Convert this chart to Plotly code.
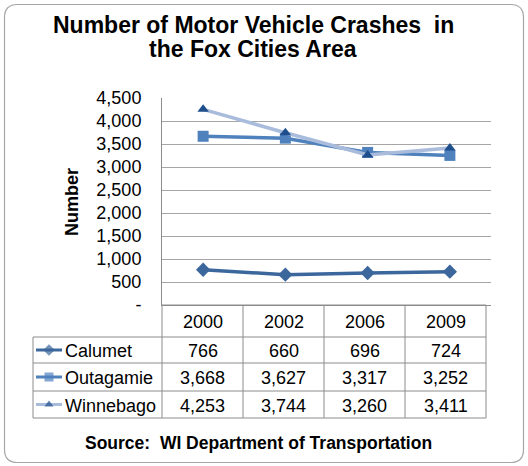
import plotly.graph_objects as go

years = ["2000", "2002", "2006", "2009"]
series_names = ["Calumet", "Outagamie", "Winnebago"]
calumet = [766, 660, 696, 724]
outagamie = [3668, 3627, 3317, 3252]
winnebago = [4253, 3744, 3260, 3411]
y_ticks = [0, 500, 1000, 1500, 2000, 2500, 3000, 3500, 4000, 4500]
y_ticklabels = ["-", "500", "1,000", "1,500", "2,000", "2,500", "3,000", "3,500", "4,000", "4,500"]
title_lines = ["Number of Motor Vehicle Crashes&nbsp; in", "the Fox Cities Area"]
y_title = "Number"
source_text = "Source:&nbsp; WI Department of Transportation"

W, H = 528, 466
FONT = "Liberation Sans, Arial, sans-serif"

line_colors = ["#3B679C", "#4F81BD", "#A9BCDB"]
marker_colors = ["#3B679C", "#4F81BD", "#1F4E8C"]
symbols = ["diamond", "square", "triangle-up"]
msizes = [11, 11, 10]
values = [calumet, outagamie, winnebago]

# plot area in pixels
PX0, PX1, PY0, PY1 = 162, 491, 98, 305

fig = go.Figure()
for name, vals, lc, mc, sym, ms in zip(series_names, values, line_colors, marker_colors, symbols, msizes):
    fig.add_trace(go.Scatter(
        x=years, y=vals, mode="lines+markers", name=name,
        line=dict(color=lc, width=3.5),
        marker=dict(symbol=sym, size=ms, color=mc, line=dict(width=0)),
        xaxis="x", yaxis="y", showlegend=False, hoverinfo="skip"))

# table geometry (pixel coords on overlay axis)
TX0, TX1 = 33, 486
col_x = [162 + i * (TX1 - 162) / 4 for i in range(5)]
row_y = [305, 337, 363, 391, 418]
grid_col = "#8C8C8C"

shapes = []
shapes.append(dict(type="line", x0=col_x[0], x1=TX1, y0=row_y[0], y1=row_y[0], xref="x2", yref="y2",
                   line=dict(color=grid_col, width=1)))
for i in range(1, 5):
    shapes.append(dict(type="line", x0=TX0, x1=TX1, y0=row_y[i], y1=row_y[i], xref="x2", yref="y2",
                       line=dict(color=grid_col, width=1)))
for cx in col_x:
    shapes.append(dict(type="line", x0=cx, x1=cx, y0=row_y[0], y1=row_y[4], xref="x2", yref="y2",
                       line=dict(color=grid_col, width=1)))
shapes.append(dict(type="line", x0=TX0, x1=TX0, y0=row_y[1], y1=row_y[4], xref="x2", yref="y2",
                   line=dict(color=grid_col, width=1)))

# rounded outer border
bx0, by0, bx1, by1, r = 4.5, 4.5, 523.5, 462.5, 13
path = (f"M {bx0+r},{by0} L {bx1-r},{by0} Q {bx1},{by0} {bx1},{by0+r} "
        f"L {bx1},{by1-r} Q {bx1},{by1} {bx1-r},{by1} L {bx0+r},{by1} "
        f"Q {bx0},{by1} {bx0},{by1-r} L {bx0},{by0+r} Q {bx0},{by0} {bx0+r},{by0} Z")
shapes.append(dict(type="path", path=path, xref="x2", yref="y2", line=dict(color="#A6A6A6", width=1.2)))

TXT = 18
annotations = []
for txt, yy in zip(title_lines, [25, 49]):
    annotations.append(dict(text=f"<b>{txt}</b>", x=253, y=yy, xref="x2", yref="y2", showarrow=False,
                            xanchor="center", yanchor="middle", font=dict(family=FONT, size=23, color="black")))
annotations.append(dict(text=f"<b>{y_title}</b>", x=72, y=202, xref="x2", yref="y2", showarrow=False,
                        textangle=-90, xanchor="center", yanchor="middle",
                        font=dict(family=FONT, size=18, color="black")))
for i, yr in enumerate(years):
    annotations.append(dict(text=yr, x=(col_x[i] + col_x[i + 1]) / 2, y=(row_y[0] + row_y[1]) / 2 + 1,
                            xref="x2", yref="y2", showarrow=False, xanchor="center", yanchor="middle",
                            font=dict(family=FONT, size=TXT, color="black")))
for r_i, (name, vals) in enumerate(zip(series_names, values)):
    cy = (row_y[r_i + 1] + row_y[r_i + 2]) / 2 + 1
    annotations.append(dict(text=name, x=63, y=cy, xref="x2", yref="y2", showarrow=False,
                            xanchor="left", yanchor="middle", font=dict(family=FONT, size=TXT, color="black")))
    for i, v in enumerate(vals):
        annotations.append(dict(text=f"{v:,}", x=(col_x[i] + col_x[i + 1]) / 2, y=cy,
                                xref="x2", yref="y2", showarrow=False, xanchor="center", yanchor="middle",
                                font=dict(family=FONT, size=TXT, color="black")))
    fig.add_trace(go.Scatter(x=[36, 49, 62], y=[cy - 1, cy - 1, cy - 1], mode="lines+markers",
                             line=dict(color=line_colors[r_i], width=3),
                             marker=dict(symbol=symbols[r_i], size=[0, msizes[r_i] - 2, 0],
                                         color=marker_colors[r_i], line=dict(width=0)),
                             xaxis="x2", yaxis="y2", showlegend=False, hoverinfo="skip"))
annotations.append(dict(text=f"<b>{source_text}</b>", x=258, y=443, xref="x2", yref="y2", showarrow=False,
                        xanchor="center", yanchor="middle", font=dict(family=FONT, size=17.5, color="black")))

fig.update_layout(
    width=W, height=H, margin=dict(l=0, r=0, t=0, b=0, autoexpand=False),
    paper_bgcolor="white", plot_bgcolor="rgba(0,0,0,0)",
    xaxis=dict(type="category", range=[-0.5, 3.5], domain=[PX0 / W, PX1 / W], anchor="y",
               showticklabels=False, showgrid=False, zeroline=False, automargin=False,
               showline=True, linecolor=grid_col, linewidth=1, ticks="", fixedrange=True),
    yaxis=dict(range=[0, 4500], domain=[(H - PY1) / H, (H - PY0) / H], anchor="x", automargin=False,
               tickvals=y_ticks, ticktext=y_ticklabels, showgrid=True, gridcolor="#A6A6A6", gridwidth=1,
               zeroline=False, showline=True, linecolor=grid_col, linewidth=1,
               ticks="outside", ticklen=16, tickcolor="rgba(0,0,0,0)",
               tickfont=dict(family=FONT, size=TXT, color="black"), fixedrange=True),
    xaxis2=dict(range=[0, W], domain=[0, 1], anchor="y2", visible=False, fixedrange=True, automargin=False),
    yaxis2=dict(range=[H, 0], domain=[0, 1], anchor="x2", visible=False, fixedrange=True, automargin=False),
    shapes=shapes, annotations=annotations,
)

fig.write_html("out.html", config={"displayModeBar": False},
               post_script="document.body.style.margin='0';")
